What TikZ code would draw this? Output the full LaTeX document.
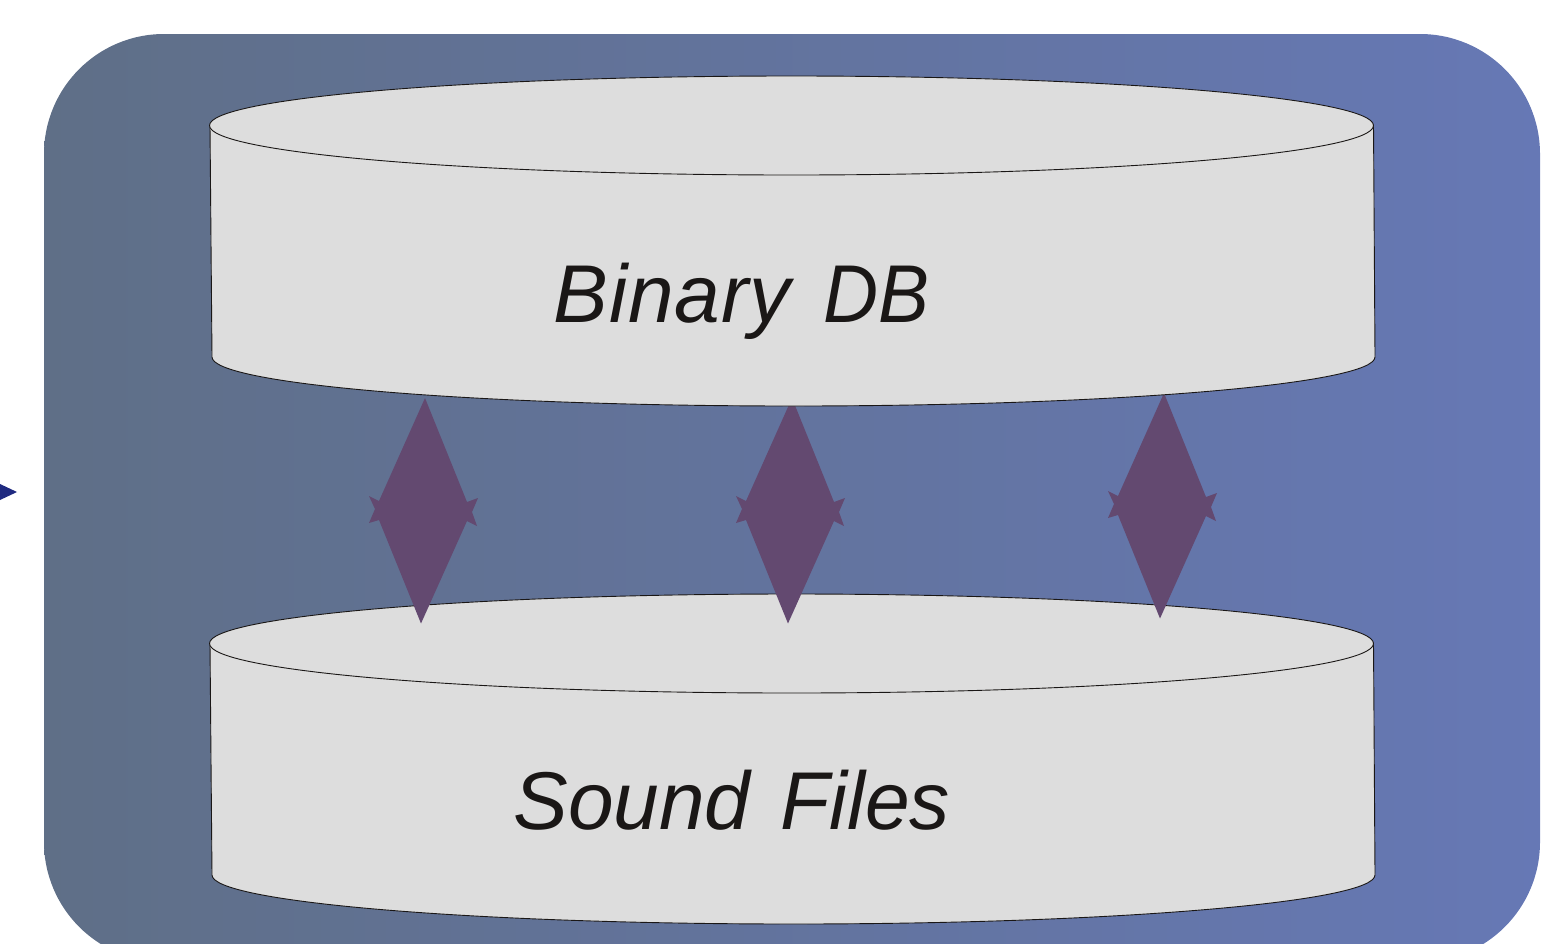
\documentclass[tikz,border=0pt]{standalone}
\usepackage{fontspec}
\usepackage{graphicx}
\setmainfont{Liberation Sans}
\definecolor{panelL}{HTML}{5F6F87}
\definecolor{panelR}{HTML}{6678B5}
\definecolor{drum}{HTML}{DDDDDD}
\definecolor{link}{HTML}{634970}
\definecolor{tip}{HTML}{1F2A80}
\definecolor{ink}{HTML}{1A1716}
\tikzset{
  drumbody/.style={fill=drum,draw=ink,line width=0.45pt},
  linkshape/.style={fill=link,draw=none},
  drumlabel/.style={font=\itshape\fontsize{41}{41}\selectfont,text=ink,inner sep=0pt,anchor=base west}
}
\newcommand{\drumshape}[1]{%
  \begin{scope}[yshift=#1*-0.5pt]
    \draw[drumbody] (210,125) -- (212,357)
      arc[start angle=180,end angle=360,x radius=581.5,y radius=-49]
      -- (1373.5,125) -- cycle;
    \draw[drumbody] (791.5,125.5) ellipse [x radius=582,y radius=49.5];
  \end{scope}}
\newcommand{\linkshape}[2]{%
  \begin{scope}[shift={(#1*0.5pt,#2*-0.5pt)}]
    \fill[linkshape] (425,398) -- (467,502) -- (478,498) -- (472,512) -- (477,526)
      -- (467,521) -- (421,623.5) -- (379,520) -- (369,523) -- (375,509)
      -- (369,496) -- (379,501) -- cycle;
  \end{scope}}
\begin{document}
\begin{tikzpicture}[x=0.5pt,y=-0.5pt]
  \useasboundingbox (0,0) rectangle (1564,943);
  \begin{scope}
    \clip (0,0) rectangle (1564,943);
    \shade[left color=panelL,right color=panelR,rounded corners=60pt]
      (44,34) rectangle (1540,962);
  \end{scope}
  \fill[tip] (0,484) -- (17,492) -- (0,500) -- cycle;
  \drumshape{518}
  \linkshape{0}{0}
  \linkshape{367}{0}
  \linkshape{739}{-5}
  \drumshape{0}
  \node[drumlabel] (binary) at (553,322) {{\addfontfeatures{LetterSpace=1.2}Binary} \hspace{5pt}\scalebox{0.93}[1]{DB}};
  \node[drumlabel] (sound) at (513,829.5) {Sound \hspace{3.5pt}\scalebox{0.98}[1]{Files}};
\end{tikzpicture}
\end{document}
